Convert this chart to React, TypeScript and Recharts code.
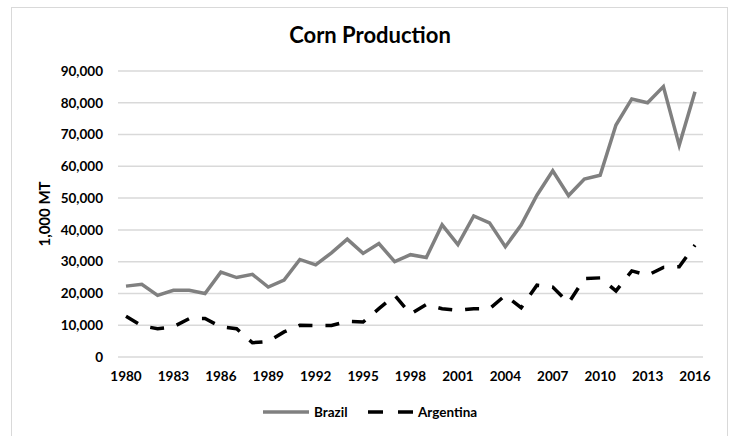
import React from "react";
import { LineChart, Line, XAxis, YAxis, CartesianGrid } from "recharts";

const years: string[] = [
  "1980","1981","1982","1983","1984","1985","1986","1987","1988","1989",
  "1990","1991","1992","1993","1994","1995","1996","1997","1998","1999",
  "2000","2001","2002","2003","2004","2005","2006","2007","2008","2009",
  "2010","2011","2012","2013","2014","2015","2016",
];

const brazil: number[] = [
  22300, 22900, 19400, 21000, 21000, 20000, 26700, 25000, 26000, 22000,
  24200, 30700, 29000, 32800, 37100, 32600, 35700, 30000, 32200, 31300,
  41600, 35400, 44400, 42200, 34700, 41500, 50900, 58600, 50800, 56000,
  57200, 73000, 81200, 80000, 85100, 66600, 83500,
];

const argentina: number[] = [
  12800, 9800, 8900, 9500, 12100, 12100, 9500, 8900, 4500, 4900,
  7900, 10000, 9900, 9900, 11200, 11000, 15200, 19400, 13500, 16500,
  15200, 14700, 15200, 15200, 19400, 15500, 22600, 22000, 17000, 24700,
  24900, 20800, 27100, 25700, 28200, 28400, 35200,
];

const yTicks: number[] = [0, 10000, 20000, 30000, 40000, 50000, 60000, 70000, 80000, 90000];

const data = years.map((y, i) => ({ year: y, Brazil: brazil[i], Argentina: argentina[i] }));

const FONT = "Lato, 'Open Sans', sans-serif";

export default function App() {
  return (
    <div style={{ position: "absolute", left: 0, top: 0, width: 734, height: 436, background: "#fff", overflow: "hidden", fontFamily: FONT }}>
      <div style={{ position: "absolute", left: 11, top: 7, width: 717, height: 440, border: "1px solid #d9d9d9", boxSizing: "border-box" }} />
      <div style={{ position: "absolute", left: 0, width: 740, top: 20, textAlign: "center", fontSize: 22, fontWeight: 700, color: "#000", lineHeight: "30px" }}>
        Corn Production
      </div>
      <div style={{ position: "absolute", left: 44, top: 214, transform: "translate(-50%, -50%) rotate(-90deg)", fontSize: 15, fontWeight: 700, whiteSpace: "nowrap", color: "#000" }}>
        1,000 MT
      </div>
      <div style={{ position: "absolute", left: 0, top: 0 }}>
        <LineChart width={734} height={436} data={data} margin={{ top: 71, right: 31, bottom: 49, left: 10 }}>
          <CartesianGrid vertical={false} stroke="#d9d9d9" strokeWidth={1.5} />
          <XAxis
            dataKey="year"
            interval={2}
            axisLine={false}
            tickLine={false}
            tickSize={0}
            tickMargin={14}
            height={30}
            padding={{ left: 8, right: 8 }}
            tick={{ fill: "#000", fontSize: 13.5, fontWeight: 700, fontFamily: FONT }}
          />
          <YAxis
            width={108}
            domain={[0, 90000]}
            ticks={yTicks}
            axisLine={false}
            tickLine={false}
            tickSize={0}
            tickMargin={15}
            tickFormatter={(v: number) => v.toLocaleString("en-US")}
            tick={{ fill: "#000", fontSize: 13.5, fontWeight: 700, fontFamily: FONT }}
          />
          <Line type="linear" dataKey="Brazil" stroke="#808080" strokeWidth={3.5} dot={false} isAnimationActive={false} />
          <Line type="linear" dataKey="Argentina" stroke="#000" strokeWidth={3.5} strokeDasharray="14 13" dot={false} isAnimationActive={false} />
        </LineChart>
      </div>
      <svg style={{ position: "absolute", left: 0, top: 0 }} width={734} height={436}>
        <line x1={263} x2={309} y1={412} y2={412} stroke="#808080" strokeWidth={3.5} />
        <text x={314} y={417} fontSize={13.5} fontWeight={700} fontFamily={FONT} fill="#000">Brazil</text>
        <line x1={368} x2={413} y1={412} y2={412} stroke="#000" strokeWidth={3.5} strokeDasharray="15 15" />
        <text x={418} y={417} fontSize={13.5} fontWeight={700} fontFamily={FONT} fill="#000">Argentina</text>
      </svg>
    </div>
  );
}
